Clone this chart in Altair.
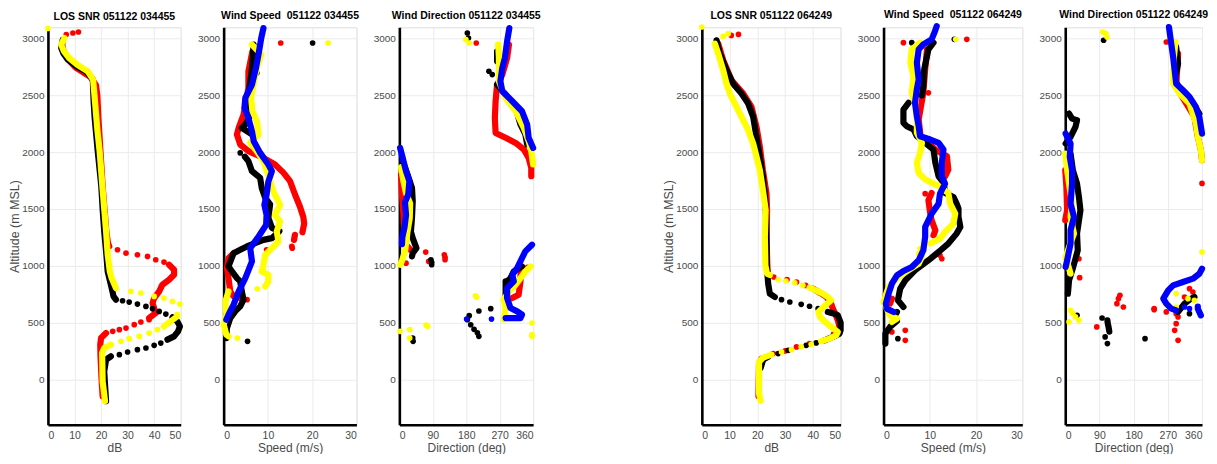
import altair as alt
import pandas as pd

# ---------------- Panel 1: LOS SNR 051122 034455 (dB, altitude m) ----------------
SNR1_RED_LINES = [
    [(5.3,2960),(5.8,2900),(7.5,2820),(10.5,2745),(13.5,2700),(16,2665),(18.1,2590),(18.6,2500),(19,2300),(19.8,2000),(20.6,1700),(21.3,1500),(22,1300),(22.6,1200),(23.1,1170)],
    [(45.6,1009),(47.5,965),(47.5,921),(45.6,877),(43.1,833),(41.9,774),(40,715),(39.4,671),(40,627),(40.6,583),(38.1,540)],
    [(21.9,407),(20,363),(19.7,305),(19.8,200),(20.2,0),(20.6,-150)],
]
SNR1_RED_DOTS = [(6.9,3036),(9.4,3050),(11.5,3059),(26.2,1141),(29.4,1111),(33.7,1097),(37.5,1082),(40.6,1053),(43.7,1032),
                 (38.1,525),(35,504),(32.5,481),(29.4,451),(26.9,437),(24.4,422)]
SNR1_BLACK_LINES = [
    [(5.6,2992),(5,2918),(5.8,2870),(7.5,2816),(10.6,2760),(14.4,2710),(16.9,2640),(17.2,2449),(17.6,2300),(18.75,2009),(20.1,1700),(20.6,1500),(21.2,1302),(22,1100),(22.5,950),(24,803),(24.7,730),(25.6,701)],
    [(46.9,545),(48.7,510),(49.7,466),(49,422),(47.5,378),(45,349)],
    [(23.7,202),(21.9,173),(21.2,70),(21.5,-50),(21.9,-193)],
]
SNR1_BLACK_DOTS = [(28.1,692),(30.6,680),(33.7,662),(36.9,642),(39.4,622),(41.9,598),(44.4,574),
                   (42.5,319),(40,299),(36.9,275),(33.7,261),(30,240),(26.9,217)]
SNR1_YELLOW_LINES = [
    [(6.2,3006),(5,2948),(6,2890),(8,2830),(11,2772),(15,2713),(17,2640),(17.5,2508),(18.6,2200),(19.5,2000),(20.5,1700),(21.2,1500),(21.9,1302),(22.5,1100),(23.3,950),(24,891),(25.6,803)],
    [(48.7,554),(46.2,510),(43.7,466)],
    [(23.7,305),(21.2,275),(20.4,231),(20.6,-18),(21.5,-193)],
]
SNR1_YELLOW_DOTS = [(0,3090),(31.2,774),(35,759),(40,730),(43.7,715),(46.9,686),(49.7,662),(48.7,572),
                    (41.2,437),(38.1,407),(34.4,378),(30.6,358),(27.5,334)]

# ---------------- Panel 2: Wind Speed 051122 034455 (m/s) ----------------
SPD1_RED_LINES = [
    [(6.5,2889),(5.6,2713),(5.6,2566),(4.5,2332),(3.4,2214),(3,2156),(3.75,2068),(5.6,2009),(9,1950),(11.6,1892),(13.5,1820),(15,1745),(16.1,1630),(17.25,1520),(18,1430),(18.2,1370),(17.8,1295)],
    [(16.1,1272),(15.9,1228)],
    [(2.25,1111),(1.1,1067),(0.75,979),(1.1,891),(1.5,774),(2.25,730),(3.75,715)],
]
SPD1_RED_DOTS = [(12.9,2962),(15.4,1170),(15.5,1155),(9.7,1141),(5.3,701)]
SPD1_BLACK_LINES = [
    [(6.75,2948),(6.6,2830),(6.3,2700),(5.6,2508),(6.2,2332),(4.9,2244),(4.1,2214),(6.4,2156)],
    [(4.8,1960),(5.6,1921),(6.4,1833),(8.25,1774),(8.6,1686),(9.4,1598),(10.5,1540),(10.1,1422),(10.9,1334),(12.6,1305),(10.9,1243),(9,1228),(7.1,1199),(5.25,1170),(3.75,1141),(2.25,1111),(1.1,994),(1.9,950),(3,891),(3.75,862),(4.1,774),(4.5,701),(3.75,642),(2.6,598),(1.5,539),(0.75,451),(0.6,363)],
]
SPD1_BLACK_DOTS = [(20.1,2962),(7.5,2698),(3.75,1994),(5.4,334)]
SPD1_YELLOW_LINES = [
    [(6.4,2948),(8.5,2860),(7.5,2742),(6.75,2596),(6.2,2478),(6.5,2361),(7.5,2273),(7.9,2156),(6,2082),(7.5,2009),(9,1921),(10.1,1800),(11.25,1653),(12.75,1536),(11.6,1448),(12.75,1390),(12,1302),(12.4,1214),(10.9,1155),(9.4,1097),(9,1009),(8.6,950),(10.1,921),(10.1,862),(9.4,818)],
    [(1.1,774),(0.4,686),(0.6,569),(0,481),(0.6,393),(1.1,378)],
]
SPD1_YELLOW_DOTS = [(23.6,2962),(7.6,797),(3.1,363)]
SPD1_BLUE_LINES = [
    [(9,3094),(8.5,3006),(8,2889),(7.3,2742),(6.4,2596),(4.9,2478),(4.7,2390),(5.6,2302),(6.4,2185),(6.8,2097),(8.25,1994),(10.1,1892),(10.9,1833),(10.1,1741),(9.7,1624),(9.2,1536),(9.7,1448),(9.6,1360),(7.9,1258),(6,1155),(6.4,1038),(4.9,891),(3.4,774),(2.25,657),(1.1,569),(0.6,525)],
]
SPD1_BLUE_DOTS = []

# ---------------- Panel 3: Wind Direction 051122 034455 (deg) ----------------
DIR1_RED_LINES = [
    [(295,2948),(290,2830),(277,2684),(263,2596),(259,2449),(257,2302),(259,2170),(286,2127),(313,2082),(335,2024),(348,1950),(355,1862),(355,1789)],
    [(4.5,1804),(7,1628),(11,1452),(13,1331),(18,1185),(30,1140),(37,1126)],
    [(344,982),(326,930),(326,862),(321,744),(304,715)],
]
DIR1_RED_DOTS = [(207,2962),(18,1023),(71,1120),(79,1038),(121,1097),(123,1075),(123,1053)]
DIR1_BLACK_LINES = [
    [(263,2889),(263,2801)],
    [(263,2596),(286,2508),(313,2390),(326,2244),(339,2156),(344,2068)],
    [(9,1921),(22,1804),(34,1686),(36,1569),(34,1422),(31,1300),(36,1243),(46,1155),(36,1111),(34,1082)],
    [(330,994),(308,950),(299,891),(290,862)],
    [(286,862),(286,715)],
]
DIR1_BLACK_DOTS = [(183,3050),(186,3006),(241,2713),(250,2684),(85,1053),(87,1030),(87,1009),(246,622),(214,601),(188,560),
                   (183,525),(192,480),(201,440),(210,410),(214,378),(36,363),(37,334)]
DIR1_YELLOW_LINES = [
    [(266,2948),(268,2830),(268,2625),(286,2478),(313,2361),(335,2214),(348,2097),(355,2009),(360,1892)],
    [(4.5,1870),(11,1745),(18,1640),(29,1550),(28,1419),(22,1302),(16,1140),(7,1041),(2,1009)],
    [(353,994),(339,950),(326,891),(313,833),(295,774),(281,701),(286,627),(281,525)],
]
DIR1_YELLOW_DOTS = [(179,2992),(188,2962),(205,735),(208,722),(357,495),(357,393),(357,380),(2,422),(28,437),(76,466),(72,478),(28,363)]
DIR1_BLUE_LINES = [
    [(296,3094),(290,2977),(284,2830),(277,2742),(272,2625),(277,2537),(304,2449),(330,2361),(344,2244),(348,2127),(360,2038)],
    [(2,2038),(9,1950),(18,1833),(27,1745),(24,1628),(15,1560),(18,1448),(14,1340),(8,1250),(7,1190)],
    [(357,1185),(339,1126),(330,1067),(317,979),(304,921),(308,862),(290,803),(290,715),(299,627),(317,598),(330,569),(326,539),(304,539),(286,539)],
]
DIR1_BLUE_DOTS = [(248,530),(181,530)]

# ---------------- Panel 4: LOS SNR 051122 064249 ----------------
SNR2_RED_LINES = [
    [(5.9,2956),(7.7,2810),(10.7,2634),(14.9,2516),(17.9,2399),(19.7,2223),(20.9,2047),(22,1842),(23.3,1637),(23.5,1490),(23.3,1255),(23.6,1000),(23.8,910)],
    [(40.1,798),(42.7,760),(44.9,725),(46.6,666),(47.2,622),(48.2,570),(49,519),(49.6,461)],
    [(21.5,182),(20.6,138),(20.4,-150)],
]
SNR2_RED_DOTS = [(10.6,3029),(13.2,3038),(25.9,901),(30.7,878),(34.1,857),(37.4,827),(47.5,400),(44.5,345),(38.8,314),(34.1,285),(30,250),(25.7,226)]
SNR2_BLACK_LINES = [
    [(5.3,2986),(6.5,2868),(8.9,2722),(11.3,2604),(14.3,2516),(16.7,2428),(18.5,2311),(19.7,2135),(20.9,1959),(22,1783),(23,1549),(23.3,1255),(23.4,1000),(23.9,842),(24.5,754),(26.3,725)],
    [(45.4,593),(47.8,578),(49,563),(50,500),(50,431),(49.6,402),(47.2,373),(44.2,343)],
    [(23.9,197),(22.1,173),(21.2,100)],
]
SNR2_BLACK_DOTS = [(28.7,701),(31.7,681),(35.8,660),(38.8,643),(41.9,622),(41.2,320),(37.6,299),(31.1,255),(27.5,226)]
SNR2_YELLOW_LINES = [
    [(4.7,2956),(5.9,2868),(7.7,2722),(8.9,2604),(10.1,2516),(11.9,2428),(14.3,2311),(16.7,2194),(18.5,2076),(19.7,1959),(20.9,1842),(22,1666),(23,1490),(22.7,1255),(22.9,1000),(23.5,930),(24.5,918)],
    [(38.8,807),(41.2,783),(43.6,754),(45.4,725),(46.6,695),(44.4,651),(42,593),(42.6,549),(44.4,505),(46.6,461),(49,417),(48.4,387),(46,358),(43,335)],
    [(25.1,217),(22.1,191),(20.6,153),(20.6,-126),(21.2,-190)],
]
SNR2_YELLOW_DOTS = [(0,3103),(7.7,3020),(9.5,3044),(27.5,878),(30.3,866),(33.5,849),(36.4,827),(39.4,308),(35.8,285),(32.3,261),(28.7,241)]

# ---------------- Panel 5: Wind Speed 051122 064249 ----------------
SPD2_RED_LINES = [
    [(9.4,2906),(9,2729),(8.6,2523),(7.6,2288),(8,2141),(11.2,2023),(13.7,1965),(14,1847),(13.3,1788)],
    [(10.4,1640),(9.7,1576),(10.1,1459),(10.4,1400),(11.2,1312),(10.8,1268)],
    [(0.7,769),(0.4,725),(1.8,710),(1.4,666)],
]
SPD2_RED_DOTS = [(4.3,2965),(18,2994),(9.7,2523),(9,1635),(12.2,1092),(12.6,1062),(4.7,431),(4.7,343),(1.8,417)]
SPD2_BLACK_LINES = [
    [(10.8,2965),(9.7,2906),(8.8,2729),(8.6,2582),(8.3,2500)],
    [(5.4,2435),(4.3,2376),(4.3,2259),(5,2229),(6.5,2200),(7.2,2141),(9,2082),(10.8,2023),(11.2,1906),(11.9,1788),(13,1729),(13.3,1641),(15.1,1606),(15.8,1547),(16.2,1503),(16.2,1430),(16.6,1342),(15.8,1283),(14,1195),(11.9,1121),(9.7,1048),(6.8,960),(4.7,871),(3.6,798),(3.1,695),(4.3,637)],
    [(2.9,593),(2.2,549),(2.9,514),(1.4,461),(0.4,402),(0.4,314)],
]
SPD2_BLACK_DOTS = [(6.1,2965),(15.3,2994),(3.1,358)]
SPD2_YELLOW_LINES = [
    [(7.9,2965),(6.1,2906),(5.8,2788),(6.5,2670),(6.1,2523),(6.8,2435),(7.2,2288),(7.2,2170),(8.3,2082),(7.9,1994),(7.2,1906),(7.6,1817),(9,1760),(12,1700),(14,1640),(14.4,1547),(15.5,1459),(15.1,1371),(13.3,1298),(12.2,1239),(10.1,1195)],
    [(8.3,1077),(7.6,1019),(5.4,960),(3.2,901),(1.1,813),(0,681),(1.4,563),(2.9,534),(1.8,505)],
]
SPD2_YELLOW_DOTS = [(15.6,2994),(7.9,1150),(7.6,1106)]
SPD2_BLUE_LINES = [
    [(11.5,3111),(11,3053),(10.4,2994),(8.6,2950),(7.6,2906),(7.2,2788),(7.6,2641),(7.2,2553),(6.8,2435),(7.2,2318),(7.6,2229),(7.9,2141),(10.1,2112),(11.9,2082),(12.95,2023),(12.6,1906),(12.6,1788),(13.3,1723),(12.2,1635),(11.9,1547),(10.4,1459),(9.7,1400),(9,1342),(9,1254),(8.6,1136),(7.6,1048),(6.1,989),(4.3,954),(2.9,915),(1.8,842),(1.1,754),(0.5,666),(0.7,622),(2.2,593)],
]
SPD2_BLUE_DOTS = []

# ---------------- Panel 6: Wind Direction 051122 064249 ----------------
DIR2_RED_LINES = [
    [(297,2868),(292,2575),(340,2311),(349,2135),(357,2018),(360,1930)],
    [(0,1842),(3,1695),(5,1490),(0,1402)],
]
DIR2_RED_DOTS = [(266,2971),(360,1725),(31,1106),(36,1062),(38,895),(83,461),(144,740),(140,710),(136,666),(153,637),(234,622),
                 (327,798),(336,769),(314,725),(292,578),(297,549),(292,490),(288,431),(297,343),(266,593),(234,613)]
DIR2_BLACK_LINES = [
    [(292,2927),(297,2780),(288,2634),(310,2516),(336,2428),(353,2340)],
    [(10,2340),(18,2296),(31,2282),(27,2223),(14,2135),(1,2076)],
    [(14,1988),(20,1842),(31,1723),(36,1606),(40,1488),(31,1283),(33,1136),(21,989),(10,871),(7,754)],
    [(111,519),(112,490),(114,460),(116,420)],
    [(297,593),(314,666),(331,710),(340,725)],
]
DIR2_BLACK_DOTS = [(101,2986),(97,540),(105,373),(111,314),(210,358),(31,563),(327,578)]
DIR2_YELLOW_LINES = [
    [(290,2971),(285,2800),(284,2604),(301,2516),(327,2428),(344,2252),(349,2135),(357,2018),(360,1930)],
    [(0,1988),(5,1842),(10,1723),(18,1547),(14,1430),(23,1283),(10,1165),(1,1077),(14,930)],
]
DIR2_YELLOW_DOTS = [(110,3015),(107,3044),(99,3059),(14,607),(20,580),(27,549),(36,519),(10,505),(292,754),(292,637),(323,710),(340,695),(360,1121)]
DIR2_BLUE_LINES = [
    [(273,3103),(279,2956),(284,2839),(288,2722),(292,2604),(310,2546),(327,2487),(344,2399),(353,2311),(360,2164)],
    [(1,2164),(14,2076),(12,1959),(18,1842),(18,1723),(14,1547),(23,1430),(14,1312),(14,1195),(5,1048),(1,989)],
    [(360,974),(353,930),(336,886),(310,857),(284,827),(271,783),(258,710),(266,666),(279,622),(292,607)],
    [(349,640),(349,622),(357,563)],
]
DIR2_BLUE_DOTS = [(327,622),(314,637)]

TITLES = ["LOS SNR 051122 034455", "Wind Speed\u00a0 051122 034455", "Wind Direction 051122 034455",
          "LOS SNR 051122 064249", "Wind Speed\u00a0 051122 064249", "Wind Direction 051122 064249"]
X_TITLES = ["dB", "Speed (m/s)", "Direction (deg)"]
X_TICKS = [[0, 10, 20, 30, 40, 50], [0, 10, 20, 30], [0, 90, 180, 270, 360]]
X_DOMAINS = [[0, 50], [0, 30], [0, 360]]
Y_TICKS = [0, 500, 1000, 1500, 2000, 2500, 3000]
Y_DOMAIN = [-400, 3100]
Y_TITLE = "Altitude (m MSL)"

COLORS = {"red": "#ff0000", "black": "#000000", "yellow": "#ffff00", "blue": "#0000ff"}
DRAW_ORDER = ["red", "black", "yellow", "blue"]

SERIES = {
    1: {"red": (SNR1_RED_LINES, SNR1_RED_DOTS), "black": (SNR1_BLACK_LINES, SNR1_BLACK_DOTS), "yellow": (SNR1_YELLOW_LINES, SNR1_YELLOW_DOTS)},
    2: {"red": (SPD1_RED_LINES, SPD1_RED_DOTS), "black": (SPD1_BLACK_LINES, SPD1_BLACK_DOTS), "yellow": (SPD1_YELLOW_LINES, SPD1_YELLOW_DOTS), "blue": (SPD1_BLUE_LINES, SPD1_BLUE_DOTS)},
    3: {"red": (DIR1_RED_LINES, DIR1_RED_DOTS), "black": (DIR1_BLACK_LINES, DIR1_BLACK_DOTS), "yellow": (DIR1_YELLOW_LINES, DIR1_YELLOW_DOTS), "blue": (DIR1_BLUE_LINES, DIR1_BLUE_DOTS)},
    4: {"red": (SNR2_RED_LINES, SNR2_RED_DOTS), "black": (SNR2_BLACK_LINES, SNR2_BLACK_DOTS), "yellow": (SNR2_YELLOW_LINES, SNR2_YELLOW_DOTS)},
    5: {"red": (SPD2_RED_LINES, SPD2_RED_DOTS), "black": (SPD2_BLACK_LINES, SPD2_BLACK_DOTS), "yellow": (SPD2_YELLOW_LINES, SPD2_YELLOW_DOTS), "blue": (SPD2_BLUE_LINES, SPD2_BLUE_DOTS)},
    6: {"red": (DIR2_RED_LINES, DIR2_RED_DOTS), "black": (DIR2_BLACK_LINES, DIR2_BLACK_DOTS), "yellow": (DIR2_YELLOW_LINES, DIR2_YELLOW_DOTS), "blue": (DIR2_BLUE_LINES, DIR2_BLUE_DOTS)},
}

rows = []
for pid, cols in SERIES.items():
    for cname, (lines, dots) in cols.items():
        for s, seg in enumerate(lines):
            for i, (xv, av) in enumerate(seg):
                rows.append({"panel": pid, "color": cname, "kind": "line", "seg": f"{pid}-{cname}-{s}", "idx": i, "x": xv, "alt": av})
        for (xv, av) in dots:
            rows.append({"panel": pid, "color": cname, "kind": "dot", "seg": "d", "idx": 0, "x": xv, "alt": av})
df = pd.DataFrame(rows)

FONT = "Liberation Sans, Arial, sans-serif"
GRAY = "#4a4a4a"

PANEL_W = [133, 133, 134, 139, 139, 137]
PANEL_H = 398


def make_panel(pid):
    k = (pid - 1) % 3
    x_axis = alt.Axis(values=X_TICKS[k], title=X_TITLES[k], grid=True, gridColor="#ebebeb", gridWidth=1,
                      domainColor="#000000", domainWidth=2.6, ticks=False,
                      labelFont=FONT, labelFontSize=10.5, labelColor=GRAY, labelPadding=6,
                      titleFont=FONT, titleFontSize=12, titleFontWeight="normal", titleColor=GRAY, titlePadding=1)
    if k == 0:
        y_axis = alt.Axis(values=Y_TICKS, title=Y_TITLE, grid=True, gridColor="#ebebeb", gridWidth=1,
                          domainColor="#000000", domainWidth=2.6, ticks=False, format="d",
                          labelFont=FONT, labelFontSize=10, labelColor=GRAY, labelPadding=4,
                          titleFont=FONT, titleFontSize=12.5, titleFontWeight="normal", titleColor=GRAY, titlePadding=0)
    else:
        y_axis = alt.Axis(values=Y_TICKS, title=None, grid=True, gridColor="#ebebeb", gridWidth=1,
                          domainColor="#000000", domainWidth=2.6, ticks=False, format="d",
                          labelFont=FONT, labelFontSize=10, labelColor=GRAY, labelPadding=4)
    xe = alt.X("x:Q", scale=alt.Scale(domain=X_DOMAINS[k], nice=False, zero=False), axis=x_axis)
    ye = alt.Y("alt:Q", scale=alt.Scale(domain=Y_DOMAIN, nice=False, zero=False), axis=y_axis)
    layers = []
    for cname in DRAW_ORDER:
        if cname not in SERIES[pid]:
            continue
        base = alt.Chart(df).transform_filter(
            (alt.datum.panel == pid) & (alt.datum.color == cname))
        ln = base.transform_filter(alt.datum.kind == "line").mark_line(
            color=COLORS[cname], strokeWidth=6.2, strokeCap="round", strokeJoin="round").encode(
            x=xe, y=ye, detail="seg:N", order="idx:Q")
        dt = base.transform_filter(alt.datum.kind == "dot").mark_circle(
            color=COLORS[cname], size=32, opacity=1).encode(x=xe, y=ye)
        layers += [ln, dt]
    return alt.layer(*layers).properties(
        width=PANEL_W[pid - 1], height=PANEL_H,
        title=alt.TitleParams(text=TITLES[pid - 1], font=FONT, fontSize=10.5, fontWeight="bold",
                              color="#000000", offset=3, anchor="middle"))


spacer = alt.Chart(df).mark_point(opacity=0).encode(
    x=alt.X("x:Q", axis=None), y=alt.Y("alt:Q", axis=None)).properties(
    width=83, height=PANEL_H, view=alt.ViewBackground(stroke="transparent", strokeWidth=0, fill="transparent"))

panels = [make_panel(p) for p in range(1, 7)]
chart = alt.hconcat(panels[0], panels[1], panels[2], spacer, panels[3], panels[4], panels[5],
                    spacing=43, bounds="flush").properties(
    padding={"left": 0, "top": 0, "right": 0, "bottom": 0}
).configure_view(stroke="transparent", strokeWidth=0).configure(background="white")

chart.save("out.html", embed_options={"renderer": "svg", "actions": False})
